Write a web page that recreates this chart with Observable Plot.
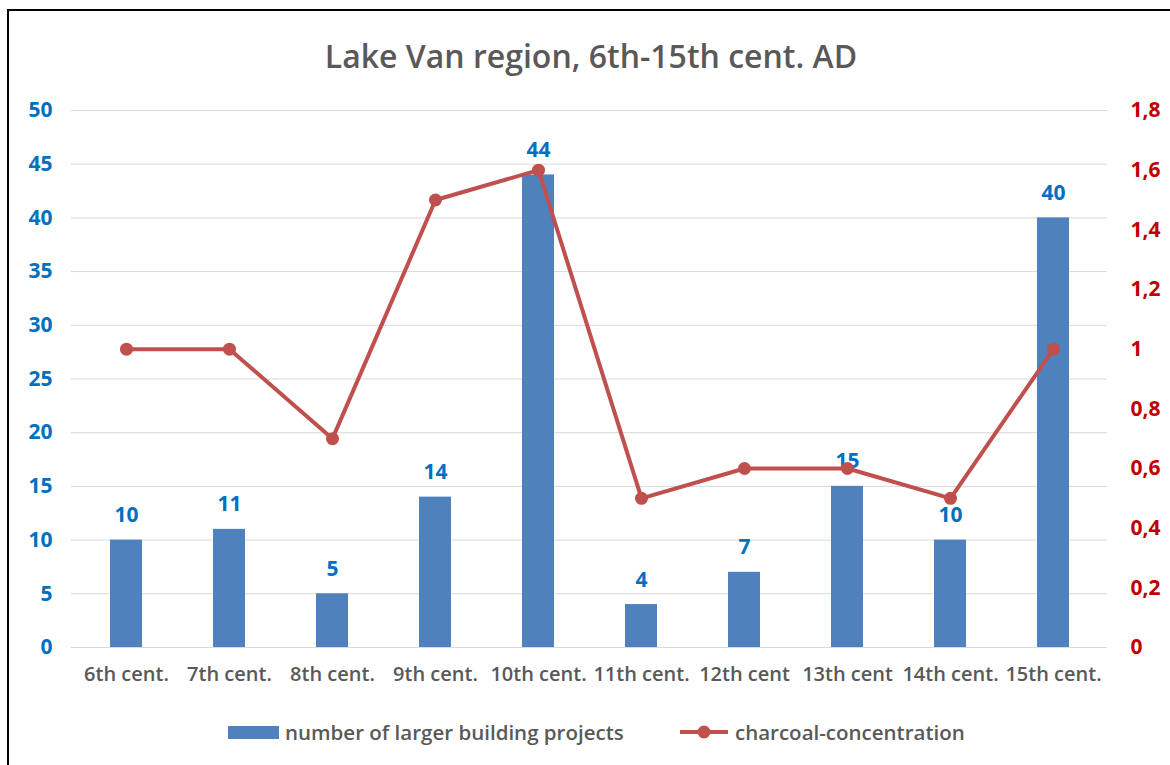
<!DOCTYPE html>
<html>
<head>
<meta charset="utf-8">
<script src="https://cdn.jsdelivr.net/npm/d3@7"></script>
<script src="https://cdn.jsdelivr.net/npm/@observablehq/plot@0.6"></script>
<style>
  html, body { margin: 0; padding: 0; background: #fff; }
  #wrap { position: relative; width: 1170px; height: 765px; overflow: hidden; font-family: 'Open Sans', sans-serif; }
  #frame { position: absolute; left: 7px; top: 9px; width: 1200px; height: 800px; border: 2px solid #000; box-sizing: border-box; box-shadow: 1px 1px 1px #888; }
  #title { position: absolute; left: 0; top: 36px; width: 1182px; text-align: center; font-size: 32px; font-weight: 600; color: #595959; line-height: 40px; }
  #chart { position: absolute; left: 0; top: 90px; }
  #legend { position: absolute; left: 0; top: 716px; width: 1170px; height: 32px; font-size: 20.5px; color: #595959; font-weight: 600; }
  .lg { position: absolute; top: 0; line-height: 32px; white-space: nowrap; }
</style>
</head>
<body>
<div id="wrap">
  <div id="frame"></div>
  <div id="title">Lake Van region, 6th-15th cent. AD</div>
  <div id="chart"></div>
  <div id="legend"></div>
</div>
<script>
const categories = ["6th cent.", "7th cent.", "8th cent.", "9th cent.", "10th cent.", "11th cent.", "12th cent", "13th cent", "14th cent.", "15th cent."];
const buildingProjects = [10, 11, 5, 14, 44, 4, 7, 15, 10, 40];
const charcoal = [1.0, 1.0, 0.7, 1.5, 1.6, 0.5, 0.6, 0.6, 0.5, 1.0];
const leftTicks = [0, 5, 10, 15, 20, 25, 30, 35, 40, 45, 50];
const rightTicks = [0, 0.2, 0.4, 0.6, 0.8, 1.0, 1.2, 1.4, 1.6, 1.8];
const seriesNames = ["number of larger building projects", "charcoal-concentration"];

const leftMax = 50, rightMax = 1.8;
const toLeft = v => v * leftMax / rightMax;
const rows = categories.map((c, i) => ({cat: c, n: buildingProjects[i], charcoal: charcoal[i]}));

const blue = "#4F81BD", red = "#C0504D";

const chart = Plot.plot({
  width: 1170,
  height: 600,
  marginTop: 20,
  marginBottom: 43,
  marginLeft: 71,
  marginRight: 63,
  style: {fontFamily: "'Open Sans', sans-serif", fontSize: "20px", background: "transparent", overflow: "visible"},
  x: {domain: categories, paddingInner: 0.69, paddingOuter: 0.345, label: null},
  y: {domain: [0, leftMax], label: null},
  marks: [
    Plot.gridY(leftTicks, {stroke: "#D9D9D9", strokeOpacity: 1, strokeWidth: 1}),
    Plot.barY(rows, {x: "cat", y: "n", fill: blue}),
    Plot.text(rows, {x: "cat", y: "n", text: d => String(d.n), dy: -18, lineAnchor: "bottom", fill: "#0070C0", fontWeight: "bold", fontSize: 21}),
    Plot.line(rows, {x: "cat", y: d => toLeft(d.charcoal), stroke: red, strokeWidth: 4}),
    Plot.dot(rows, {x: "cat", y: d => toLeft(d.charcoal), r: 6.5, fill: red, stroke: "none"}),
    Plot.axisY(leftTicks, {anchor: "left", tickSize: 0, tickPadding: 19, fill: "#0070C0", fontWeight: "bold", fontSize: 21, label: null}),
    Plot.axisY(rightTicks.map(toLeft), {anchor: "right", tickSize: 0, tickPadding: 23, fill: "#C00000", fontWeight: "bold", fontSize: 21, label: null,
      tickFormat: d => String(Math.round(d * rightMax / leftMax * 10) / 10).replace(".", ",")}),
    Plot.axisX({tickSize: 0, tickPadding: 19, fill: "#595959", fontWeight: 600, fontSize: 20, label: null})
  ]
});
document.getElementById("chart").appendChild(chart);

const legend = document.getElementById("legend");
legend.innerHTML = `
  <div class="lg" style="left:228px;"><svg width="52" height="32" style="vertical-align:top"><rect x="0" y="10" width="51" height="13" fill="${blue}"></rect></svg></div>
  <div class="lg" style="left:285px;">${seriesNames[0]}</div>
  <div class="lg" style="left:679px;"><svg width="52" height="32" style="vertical-align:top"><line x1="1" x2="49" y1="16" y2="16" stroke="${red}" stroke-width="4"></line><circle cx="25" cy="16" r="6.5" fill="${red}"></circle></svg></div>
  <div class="lg" style="left:735px;">${seriesNames[1]}</div>
`;
</script>
</body>
</html>
